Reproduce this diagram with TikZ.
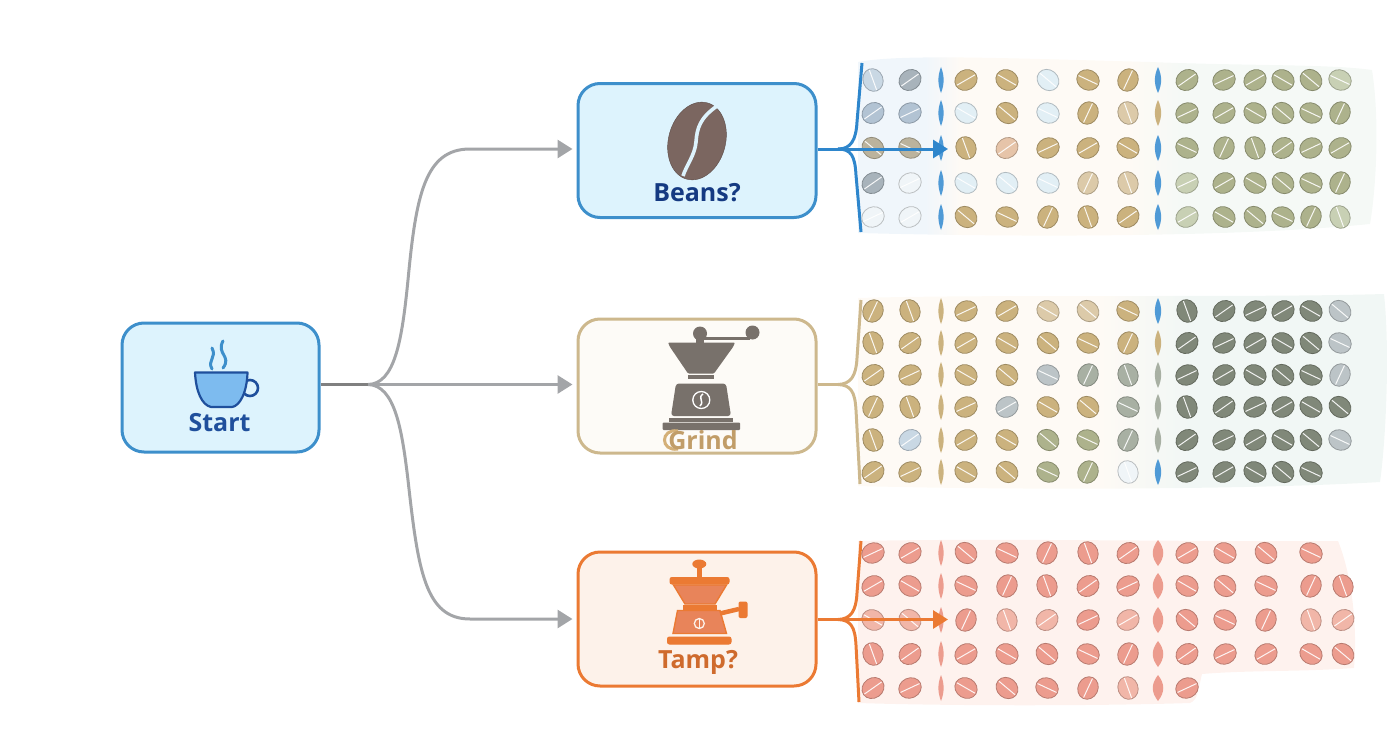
\documentclass[tikz,border=0pt]{standalone}
\usepackage{fontspec}
\setmainfont{Open Sans}
\usetikzlibrary{arrows.meta}

\definecolor{startfill}{HTML}{DDF3FD}
\definecolor{startedge}{HTML}{3D8FCB}
\definecolor{grindfill}{HTML}{FDFBF7}
\definecolor{grindedge}{HTML}{CDB88D}
\definecolor{tampfill}{HTML}{FDF2EA}
\definecolor{tampedge}{HTML}{EB7A33}
\definecolor{navy}{HTML}{153A82}
\definecolor{startnavy}{HTML}{1F4F9C}
\definecolor{linkgray}{HTML}{A3A5A8}
\definecolor{linkblue}{HTML}{2E86CC}
\definecolor{beanbrown}{HTML}{7B6660}
\definecolor{grinder}{HTML}{78716B}
\definecolor{tampbody}{HTML}{E8845A}
\definecolor{cupfill}{HTML}{7DBBEF}
\definecolor{bandblue}{HTML}{F0F6FB}
\definecolor{bandcream}{HTML}{FEFAF5}
\definecolor{bandgreen}{HTML}{F5F9F6}
\definecolor{bandsea}{HTML}{F1F7F5}
\definecolor{bandred}{HTML}{FEF2EE}
% bean colours
\definecolor{ta}{HTML}{CBB27E}
\definecolor{tl}{HTML}{DCCAA9}
\definecolor{pk}{HTML}{E6C4A9}
\definecolor{pb}{HTML}{E2EFF5}
\definecolor{vp}{HTML}{F0F5F8}
\definecolor{bl}{HTML}{C9D8E4}
\definecolor{bg}{HTML}{B2C3D3}
\definecolor{gb}{HTML}{A8B3BB}
\definecolor{mx}{HTML}{BBB39D}
\definecolor{ol}{HTML}{ADB28C}
\definecolor{op}{HTML}{C8D0B4}
\definecolor{dk}{HTML}{808879}
\definecolor{gy}{HTML}{A8B0A3}
\definecolor{gl}{HTML}{BCC4C7}
\definecolor{sb}{HTML}{4F9AD6}
\definecolor{rd}{HTML}{EC9C8E}
\definecolor{rp}{HTML}{F1B6A8}

\tikzset{
    box/.style={draw, line width=3pt, rounded corners=22pt, minimum width=238pt, minimum height=134pt, inner sep=0pt},
    title/.style={font=\fontsize{25}{25}\selectfont\bfseries, inner sep=0pt},
    graylink/.style={draw=linkgray, line width=3pt, shorten >=4pt},
    blink/.style={draw=linkblue, line width=3pt},
    tlink/.style={draw=grindedge, line width=3pt},
    olink/.style={draw=tampedge, line width=3pt},
    tip/.style={-{Triangle[length=15pt, width=18pt]}},
}

\newcommand{\bean}[4]{%
    \begin{scope}[shift={(#1,#2)}, rotate=#4]
        \draw[fill=#3, draw=#3!78!black, line width=.8pt] (0,0) ellipse (11.5 and 10);
        \draw[draw=#3!10!white, line width=1pt] (-10.5,0) -- (10.5,0);
    \end{scope}}
\newcommand{\sliver}[4]{\fill[#3] (#1,#2-13) .. controls (#1+1.4*#4,#2-4) and (#1+1.4*#4,#2+4) .. (#1,#2+13)
    .. controls (#1-1.4*#4,#2+4) and (#1-1.4*#4,#2-4) .. cycle;}
\newcommand{\beanrow}[3]{%
    \foreach \cc [count=\ci] in {#3} {
        \pgfmathsetmacro\cx{{#2}[\ci-1]}
        \pgfmathsetmacro\ca{{35,-30,65,25,-40,-70,30,-25}[int(mod(\ci*3+#1/3,8))]}
        \ifnum\ci=3 \sliver{\cx}{#1}{\cc}{2.5}\else
        \ifnum\ci=9 \sliver{\cx}{#1}{\cc}{\slw}\else
        \bean{\cx}{#1}{\cc}{\ca}\fi\fi
    }}
\def\colsa{873,910,941,966,1007,1048,1088,1128,1158,1187,1224,1255,1283,1311,1340}
\def\colsb{873,910,941,966,1007,1047,1088,1128,1158,1187,1225,1266,1311,1343}
\def\slw{3}

\begin{document}
\begin{tikzpicture}[x=1pt, y=-1pt, >=stealth]
    \useasboundingbox (0,0) rectangle (1392,752);

    % tinted bands behind the beans
    \begin{scope}
        \clip (858,62) .. controls (900,54) and (1000,58) .. (1150,62) .. controls (1250,66) and (1330,64) .. (1372,70)
            .. controls (1380,120) and (1376,190) .. (1370,224) .. controls (1250,236) and (1050,238) .. (858,233) -- cycle;
        \fill[bandblue] (850,50) rectangle (925,240);
        \shade[left color=bandblue, right color=bandcream] (925,50) rectangle (960,240);
        \fill[bandcream] (960,50) rectangle (1130,240);
        \shade[left color=bandcream, right color=bandgreen] (1130,50) rectangle (1180,240);
        \fill[bandgreen] (1180,50) rectangle (1385,240);
    \end{scope}
    \begin{scope}
        \clip (858,298) .. controls (1000,294) and (1250,298) .. (1384,294) .. controls (1390,350) and (1386,440) .. (1380,482)
            .. controls (1250,490) and (1000,490) .. (858,486) -- cycle;
        \fill[bandcream] (850,290) rectangle (1100,495);
        \shade[left color=bandcream, right color=bandsea] (1100,290) rectangle (1190,495);
        \fill[bandsea] (1190,290) rectangle (1392,495);
    \end{scope}
    \fill[bandred] (858,541) .. controls (1000,538) and (1200,542) .. (1338,541) .. controls (1350,570) and (1358,620) .. (1354,668)
        .. controls (1300,672) and (1250,670) .. (1202,674) .. controls (1198,690) and (1198,700) .. (1190,703)
        .. controls (1100,706) and (950,706) .. (858,703) -- cycle;

    % boxes
    \node[box, draw=startedge, fill=startfill, minimum width=197pt, minimum height=129pt] (start) at (220.5,387.5) {};
    \node[box, draw=startedge, fill=startfill] (beans) at (697,150.5) {};
    \node[box, draw=grindedge, fill=grindfill] (grind) at (697,386) {};
    \node[box, draw=tampedge, fill=tampfill] (tamp) at (697,619) {};

    % connectors from start
    \coordinate (fork) at (368,384.5);
    \draw[graylink, tip] (fork) .. controls (395,384) and (402,340) .. (408,280)
        .. controls (416,195) and (425,149) .. (470,149) -- (beans.west |- 0,149);
    \draw[graylink, tip] (fork) .. controls (395,385) and (402,430) .. (408,480)
        .. controls (418,570) and (425,619) .. (470,619) -- (tamp.west |- 0,619);
    \draw[graylink, tip] (fork) -- (grind.west |- fork);
    \draw[draw=gray, line width=3pt] (start.east |- fork) -- (fork);

    % brackets on the right of each box
    \coordinate (beansfork) at (838,149);
    \coordinate (beanstop) at (862,63);
    \coordinate (beansbot) at (861,232);
    \coordinate (beanstip) at (948,149);
    \draw[blink] (beansfork) .. controls (851,149) and (856,140) .. (857,122) -- (beanstop);
    \draw[blink] (beansfork) .. controls (851,149) and (855,156) .. (856,175) -- (beansbot);

    \coordinate (grindfork) at (838,384.5);
    \coordinate (grindtop) at (861,300);
    \coordinate (grindbot) at (860,484);
    \draw[tlink] (grind.east |- grindfork) -- (grindfork);
    \draw[tlink] (grindfork) .. controls (851,384) and (856,376) .. (857,358) -- (grindtop);
    \draw[tlink] (grindfork) .. controls (851,385) and (855,392) .. (856,410) -- (grindbot);

    \coordinate (tampfork) at (838,619.5);
    \coordinate (tamptop) at (861,541);
    \coordinate (tampbot) at (859,702);
    \coordinate (tamptip) at (948,619.5);
    \draw[olink] (tampfork) .. controls (851,619) and (856,611) .. (857,593) -- (tamptop);
    \draw[olink] (tampfork) .. controls (851,620) and (855,627) .. (856,645) -- (tampbot);

    % beans
    \beanrow{80}{\colsa}{bl,gb,sb,ta,ta,pb,ta,ta,sb,ol,ol,ol,ol,ol,op}
    \beanrow{113}{\colsa}{bg,bg,sb,pb,ta,pb,ta,tl,ta,ol,ol,ol,ol,ol,ol}
    \beanrow{148}{\colsa}{mx,mx,sb,ta,pk,ta,ta,ta,sb,ol,ol,ol,ol,ol,ol}
    \beanrow{183}{\colsa}{gb,vp,sb,pb,pb,pb,tl,tl,sb,op,ol,ol,ol,ol,ol}
    \beanrow{217}{\colsa}{vp,vp,sb,ta,ta,ta,ta,ta,sb,op,ol,ol,ol,ol,op}

    \beanrow{311}{\colsa}{ta,ta,ta,ta,ta,tl,tl,ta,sb,dk,dk,dk,dk,dk,gl}
    \beanrow{343}{\colsa}{ta,ta,ta,ta,ta,ta,ta,ta,ta,dk,dk,dk,dk,dk,gl}
    \beanrow{375}{\colsa}{ta,ta,ta,ta,ta,gl,gy,gy,gy,dk,dk,dk,dk,dk,gl}
    \beanrow{407}{\colsa}{ta,ta,ta,ta,gl,ta,ta,gy,gy,dk,dk,dk,dk,dk,dk}
    \beanrow{440}{\colsa}{ta,bl,ta,ta,ta,ol,ol,gy,gy,dk,dk,dk,dk,dk,gl}
    \beanrow{472}{\colsa}{ta,ta,ta,ta,ta,ol,ol,vp,sb,dk,dk,dk,dk,dk}

    \def\slw{5}
    \beanrow{553}{\colsb}{rd,rd,rd,rd,rd,rd,rd,rd,rd,rd,rd,rd,rd}
    \beanrow{586}{\colsb}{rd,rd,rd,rd,rd,rd,rd,rd,rd,rd,rd,rd,rd,rd}
    \beanrow{620}{\colsb}{rp,rp,rd,rd,rp,rp,rd,rp,rd,rd,rd,rd,rp,rp}
    \beanrow{654}{\colsb}{rd,rd,rd,rd,rd,rd,rd,rd,rd,rd,rd,rd,rd,rd}
    \beanrow{688}{\colsb}{rd,rd,rd,rd,rd,rd,rd,rp,rd,rd}
    \def\slw{3}

    % arrows over the beans
    \draw[blink, tip] (beans.east |- beansfork) -- (beanstip);
    \draw[olink, tip] (tamp.east |- tampfork) -- (tamptip);

    % cup
    \draw[draw=startnavy, line width=2.6pt] (250,388) circle (8);
    \draw[draw=startnavy, fill=cupfill, line width=2.2pt, line join=round]
        (195,372.5) -- (247.5,372.5) .. controls (247,392) and (240,406) .. (232,407) -- (211,407) .. controls (202,405) and (196,392) .. (195,372.5) -- cycle;
    \draw[draw=startedge, line width=3pt, line cap=round] (212,369) .. controls (207,360) and (217,358) .. (212,348);
    \draw[draw=startedge, line width=3pt, line cap=round] (223,368) .. controls (232,356) and (216,354) .. (223,341);
    \node[title, text=startnavy] (startlabel) at (219.5,423) {Start};

    % coffee bean
    \fill[beanbrown, draw=beanbrown!75!black, rotate around={-15:(697,141)}] (697,141) ellipse (28.5 and 39.5);
    \draw[draw=startfill, line width=3.6pt] (717,106) .. controls (700,118) and (697,128) .. (696,142) .. controls (695,155) and (686,166) .. (683,176);
    \node[title, text=navy] (beanslabel) at (697,192.5) {Beans?};

    % grey grinder
    \fill[grinder] (700,333.5) circle (7);
    \fill[grinder] (752.5,332.5) circle (7);
    \draw[draw=grinder, line width=3pt] (700,338) -- (750,338);
    \fill[grinder] (696,338) rectangle (704,345);
    \fill[grinder, rounded corners=1pt] (668,342.5) -- (735,342.5) -- (733,347) -- (714,373.5) -- (688,373.5) -- (670,347) -- cycle;
    \fill[grinder] (688,375) rectangle (714,379);
    \fill[grinder, rounded corners=3pt] (676,383.5) -- (726,383.5) -- (731,416) -- (671,416) -- cycle;
    \fill[grinder] (669,417.5) rectangle (733,421.5);
    \fill[grinder, rounded corners=1pt] (662.5,422.5) rectangle (740,430);
    \draw[draw=white, line width=1.3pt] (701.3,400) circle (8.5);
    \draw[draw=white, line width=1.5pt] (703,394) .. controls (697,398) and (705,401) .. (700,406);
    \draw[draw=grindedge!85!orange, line width=3pt] (678,431) .. controls (660,428) and (660,452) .. (678,449);
    \node[title, text=grindedge!82!orange!90!black] (grindlabel) at (703,440) {Grind};

    % orange grinder
    \fill[tampedge] (699.3,564) ellipse (7 and 4.5);
    \fill[tampedge] (697,566) rectangle (702,578);
    \draw[draw=tampedge, fill=tampedge, line width=1pt, rounded corners=2pt] (670,577.5) rectangle (729,584);
    \draw[draw=tampedge, fill=tampbody, line width=1.4pt] (673.5,585) -- (726.5,585) -- (715,604) -- (685,604) -- cycle;
    \draw[draw=tampedge, fill=tampedge, line width=1pt] (683.5,605.5) rectangle (716.5,609);
    \draw[draw=tampedge, fill=tampbody, line width=1.4pt] (677.5,610.5) -- (720,610.5) -- (726.5,633.5) -- (673,633.5) -- cycle;
    \draw[draw=tampedge, fill=tampedge, line width=1pt, rounded corners=2pt] (667.5,637) rectangle (731,644);
    \draw[draw=tampedge, line width=4.5pt] (720,613.5) -- (739,609);
    \fill[tampedge, rounded corners=2pt] (738.5,601.5) rectangle (747.5,618);
    \draw[draw=tampfill, line width=1.3pt] (699.3,623.5) circle (5);
    \draw[draw=tampfill, line width=1.2pt] (699.3,618.5) -- (699.3,628.5);
    \node[title, text=tampedge!88!black] (tamplabel) at (698,662.5) {Tamp?};
\end{tikzpicture}
\end{document}
